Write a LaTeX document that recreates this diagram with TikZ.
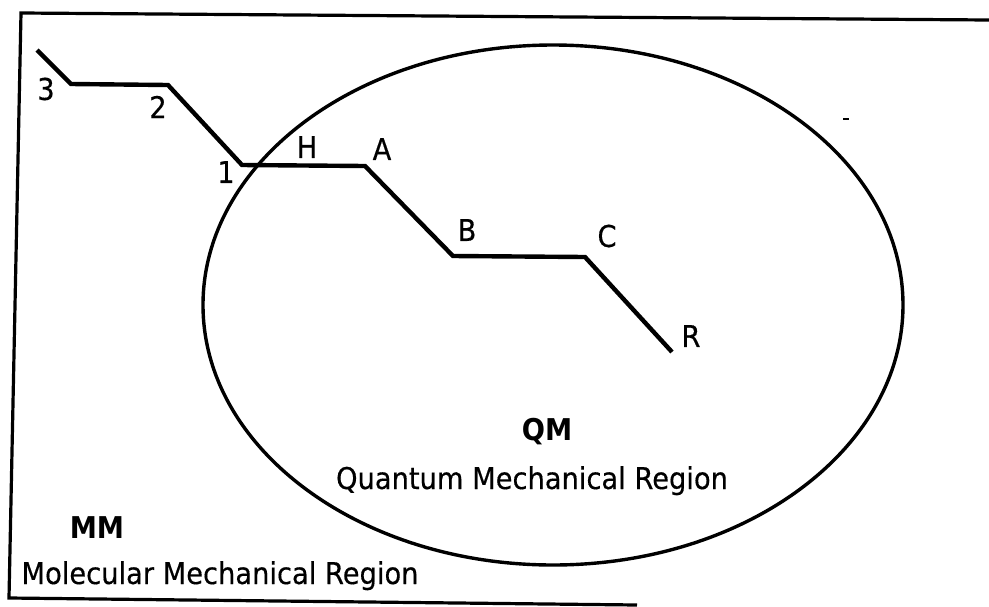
\documentclass[tikz,border=0pt]{standalone}
\usepackage{fontspec}
\setmainfont{DejaVu Sans}
\newfontfamily\scanfont[FakeStretch=0.91,FakeBold=0.4]{DejaVu Sans}
\newfontfamily\scanbold[FakeStretch=0.91]{DejaVu Sans Bold}
\begin{document}
\begin{tikzpicture}[x=1pt,y=-1pt,
  lbl/.style={inner sep=0pt,font=\scanfont\fontsize{30}{35}\selectfont},
  region/.style={inner sep=0pt,anchor=base,font=\scanfont\fontsize{30}{35}\selectfont},
  tag/.style={inner sep=0pt,anchor=base,font=\scanbold\fontsize{30}{35}\selectfont},
  chain/.style={line width=4.4pt,line join=miter,line cap=butt},
  frame/.style={line width=3.2pt,line join=miter},
  bound/.style={line width=3.4pt}]
\useasboundingbox (0,0) rectangle (989,606);
% frame (scanned, open on the right)
\coordinate (f1) at (989,20);
\coordinate (f2) at (21,13);
\coordinate (f3) at (9,598);
\coordinate (f4) at (637,605);
\draw[frame] (f1) -- (f2) -- (f3) -- (f4);
% QM region boundary
\draw[bound] (553,305) ellipse [x radius=350pt, y radius=260pt];
% chain
\coordinate (p0) at (37,50);
\coordinate (p3) at (71,84);
\coordinate (p2) at (168,85);
\coordinate (p1) at (242,165);
\coordinate (pA) at (365,166);
\coordinate (pB) at (453,256);
\coordinate (pC) at (585,257);
\coordinate (pR) at (672,352);
\draw[chain] (p0) -- (p3) -- (p2) -- (p1) -- (pA) -- (pB) -- (pC) -- (pR);
% atom labels
\node[lbl] (l3) at (46,89) {3};
\node[lbl] (l2) at (158,107) {2};
\node[lbl] (l1) at (226,172) {1};
\node[lbl] (lH) at (307,147) {H};
\node[lbl] (lA) at (382,149) {A};
\node[lbl] (lB) at (467,230) {B};
\node[lbl] (lC) at (607,236) {C};
\node[lbl] (lR) at (691,336) {R};
% region labels
\node[tag] (qm) at (547,440) {QM};
\node[region] (qmr) at (532,489) {Quantum Mechanical Region};
\node[tag] (mm) at (97,538) {MM};
\node[region] (mmr) at (220,584) {Molecular Mechanical Region};
% speck
\coordinate (s1) at (843,119);
\coordinate (s2) at (849,119);
\draw[line width=1.6pt] (s1) -- (s2);
\end{tikzpicture}
\end{document}
